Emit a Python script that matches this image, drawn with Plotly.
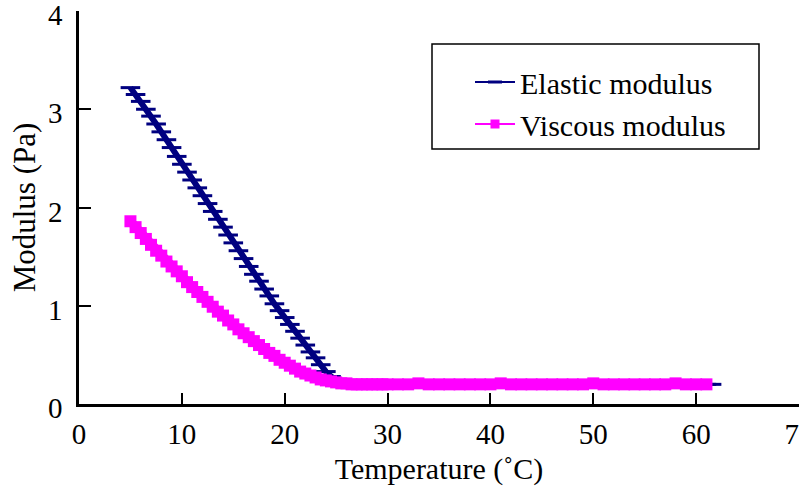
import plotly.graph_objects as go

# Temperature (°C) sample points
temp_elastic = [5.0, 5.5, 6.0, 6.5, 7.0, 7.5, 8.0, 8.5, 9.0, 9.5, 10.0, 10.5, 11.0, 11.5, 12.0,
                12.5, 13.0, 13.5, 14.0, 14.5, 15.0, 15.5, 16.0, 16.5, 17.0, 17.5, 18.0, 18.5,
                19.0, 19.5, 20.0, 20.5, 21.0, 21.5, 22.0, 22.5, 23.0, 23.5, 24.0, 24.5, 25.0,
                25.5, 26.0, 27, 28, 29, 30, 31, 32, 33, 34, 35, 36, 37, 38, 39, 40, 41, 42,
                43, 44, 45, 46, 47, 48, 49, 50, 51, 52, 53, 54, 55, 56, 57, 58, 59, 60, 61, 61.5]
elastic_modulus = [3.22, 3.15, 3.08, 3.00, 2.93, 2.85, 2.77, 2.69, 2.61, 2.52, 2.44, 2.36, 2.28,
                   2.20, 2.12, 2.04, 1.96, 1.88, 1.80, 1.72, 1.64, 1.56, 1.48, 1.40, 1.32, 1.25,
                   1.17, 1.10, 1.02, 0.95, 0.88, 0.81, 0.74, 0.67, 0.60, 0.53, 0.47, 0.40, 0.33,
                   0.28, 0.24, 0.22, 0.21, 0.20, 0.20, 0.20, 0.20, 0.20, 0.20, 0.20, 0.20, 0.20,
                   0.20, 0.20, 0.20, 0.20, 0.20, 0.20, 0.20, 0.20, 0.20, 0.20, 0.20, 0.20, 0.20,
                   0.20, 0.20, 0.20, 0.20, 0.20, 0.20, 0.20, 0.20, 0.20, 0.20, 0.20, 0.20, 0.20,
                   0.20]

temp_viscous = [5.0, 5.5, 6.0, 6.5, 7.0, 7.5, 8.0, 8.5, 9.0, 9.5, 10.0, 10.5, 11.0, 11.5, 12.0,
                12.5, 13.0, 13.5, 14.0, 14.5, 15.0, 15.5, 16.0, 16.5, 17.0, 17.5, 18.0, 18.5,
                19.0, 19.5, 20.0, 20.5, 21.0, 21.5, 22.0, 22.5, 23.0, 23.5, 24.0, 24.5, 25.0,
                25.5, 26.0, 26.5, 27, 27.5, 28, 28.5, 29, 29.5, 30, 31, 32, 33, 34, 35, 36, 37,
                38, 39, 40, 41, 42, 43, 44, 45, 46, 47, 48, 49, 50, 51, 52, 53, 54, 55, 56, 57,
                58, 59, 60, 61]
viscous_modulus = [1.86, 1.80, 1.74, 1.68, 1.62, 1.56, 1.51, 1.45, 1.40, 1.35, 1.30, 1.24, 1.19,
                   1.14, 1.09, 1.04, 0.99, 0.94, 0.90, 0.85, 0.81, 0.76, 0.72, 0.68, 0.64, 0.60,
                   0.56, 0.52, 0.49, 0.45, 0.42, 0.39, 0.36, 0.33, 0.31, 0.29, 0.27, 0.25, 0.24,
                   0.23, 0.22, 0.21, 0.21, 0.20, 0.20, 0.20, 0.20, 0.20, 0.20, 0.20, 0.20, 0.20,
                   0.20, 0.21, 0.20, 0.20, 0.20, 0.20, 0.20, 0.20, 0.20, 0.21, 0.20, 0.20, 0.20,
                   0.20, 0.20, 0.20, 0.20, 0.20, 0.21, 0.20, 0.20, 0.20, 0.20, 0.20, 0.20, 0.20,
                   0.21, 0.20, 0.20, 0.20]

series_names = ["Elastic modulus", "Viscous modulus"]
x_ticks = [0, 10, 20, 30, 40, 50, 60, 70]
y_ticks = [0, 1, 2, 3, 4]

FONT = "Liberation Serif, Times New Roman, serif"
NAVY = "#000080"
MAGENTA = "#FF00FF"

fig = go.Figure()
fig.add_trace(go.Scatter(
    x=temp_elastic, y=elastic_modulus, name=series_names[0], showlegend=False,
    mode="lines+markers",
    line=dict(color=NAVY, width=6),
    marker=dict(symbol="line-ew", size=14, line=dict(color=NAVY, width=3)),
))
fig.add_trace(go.Scatter(
    x=temp_viscous, y=viscous_modulus, name=series_names[1], showlegend=False,
    mode="lines+markers",
    line=dict(color=MAGENTA, width=9),
    marker=dict(symbol="square", size=12, color=MAGENTA),
))
# legend-only entries (thin line with a single marker, as in the original key)
fig.add_trace(go.Scatter(
    x=[None], y=[None], name=series_names[0], mode="lines+markers",
    line=dict(color=NAVY, width=2),
    marker=dict(symbol="line-ew", size=10, line=dict(color=NAVY, width=3)),
))
fig.add_trace(go.Scatter(
    x=[None], y=[None], name=series_names[1], mode="lines+markers",
    line=dict(color=MAGENTA, width=2),
    marker=dict(symbol="square", size=9, color=MAGENTA),
))

# legend frame
fig.add_shape(type="rect", xref="paper", yref="paper",
              x0=(432 - 79) / 720, x1=(759 - 79) / 720,
              y0=(404 - 149) / 393, y1=(404 - 44) / 393,
              line=dict(color="black", width=1.5), fillcolor="rgba(0,0,0,0)")

fig.update_layout(
    width=799, height=494,
    margin=dict(l=79, r=0, t=11, b=90),
    paper_bgcolor="white", plot_bgcolor="white",
    font=dict(family=FONT, size=29, color="black"),
    showlegend=True,
    legend=dict(
        x=(470 - 79) / 720, y=(404 - 56) / 393, xanchor="left", yanchor="top",
        bgcolor="rgba(0,0,0,0)", borderwidth=0,
        font=dict(family=FONT, size=30, color="black"),
        tracegroupgap=2, itemwidth=40,
    ),
    xaxis=dict(
        range=[0, 70], tickvals=x_ticks, ticks="inside", ticklen=11, tickwidth=2,
        tickcolor="black", showline=True, linecolor="black", linewidth=2.5,
        showgrid=False, zeroline=False, ticklabelstandoff=2, automargin=False,
        ticklabeloverflow="allow",
        title=dict(text="Temperature (\u02daC)", font=dict(family=FONT, size=30), standoff=10),
    ),
    yaxis=dict(
        range=[0, 4], tickvals=y_ticks, ticks="inside", ticklen=12, tickwidth=2,
        tickcolor="black", showline=True, linecolor="black", linewidth=2.5,
        showgrid=False, zeroline=False, ticklabelstandoff=8, ticklabelshift=4,
        automargin=False, ticklabeloverflow="allow",
        title=dict(text="Modulus (Pa)", font=dict(family=FONT, size=31), standoff=4),
    ),
)

fig.write_html("out.html", config={"displayModeBar": False},
               post_script="document.body.style.margin='0';document.body.style.overflow='hidden';")
